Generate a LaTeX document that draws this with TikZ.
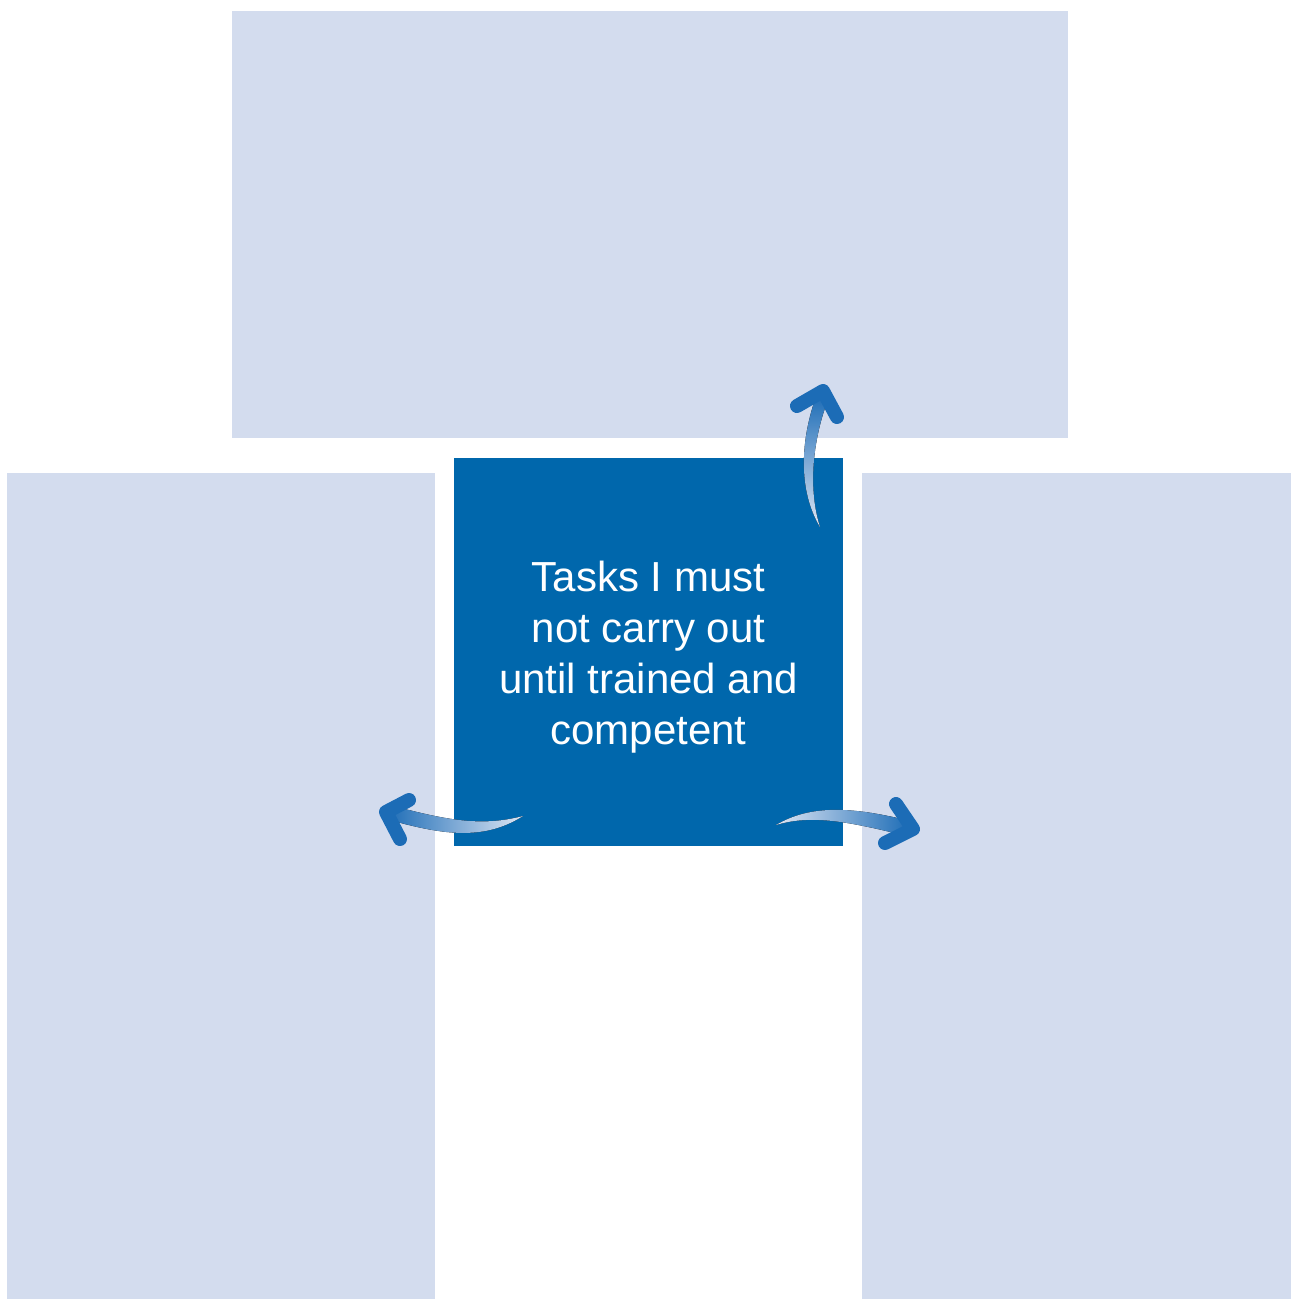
\documentclass[tikz,border=0pt]{standalone}
\usepackage{fontspec}
\setmainfont{Liberation Sans}
\usepackage{xcolor}
\usetikzlibrary{positioning}
\definecolor{panelblue}{RGB}{211,220,238}
\definecolor{taskblue}{RGB}{0,103,172}
\definecolor{arrowdark}{RGB}{28,108,182}
\definecolor{arrowlight}{RGB}{222,230,244}
\begin{document}
\begin{tikzpicture}[x=1pt,y=-1pt,
  panel/.style={fill=panelblue,inner sep=0pt,outer sep=0pt},
  taskbox/.style={fill=taskblue,text=white,align=center,inner sep=0pt,outer sep=0pt,minimum width=389pt,minimum height=388pt,font=\fontsize{42}{51}\selectfont},
  chevron/.style={draw=arrowdark,line width=14pt,line cap=round,line join=round}]
\useasboundingbox (0,0) rectangle (1291,1299);
\node[taskbox] (task) at (648.5,652) {\rule{0pt}{41pt}Tasks I must\\not carry out\\until trained and\\competent};
\node[panel,minimum width=836pt,minimum height=427pt,above=20pt of task.north,xshift=1.5pt] (panelT) {};
\node[panel,minimum width=428pt,minimum height=826pt,anchor=north west] (panelL) at (7,473) {};
\node[panel,minimum width=429pt,minimum height=826pt,anchor=north west] (panelR) at (862,473) {};
% arrow ends
\coordinate (tailT) at (820,527);\coordinate (tipT) at (823,391);
\coordinate (tailL) at (523,816);\coordinate (tipL) at (386,812);
\coordinate (tailR) at (776,825);\coordinate (tipR) at (913,829);
% tapered shafts
\fill[top color=arrowdark,bottom color=arrowlight] (tailT) .. controls (798,490) and (800,440) .. (817,394) -- (829,397) .. controls (812,440) and (808,490) .. (tailT);
\fill[left color=arrowdark,right color=arrowlight] (tailL) .. controls (478,828) and (440,818) .. (389,805) -- (386,819) .. controls (440,834) and (482,842) .. (tailL);
\fill[left color=arrowlight,right color=arrowdark] (tailR) .. controls (810,805) and (850,806) .. (910,821) -- (907,836) .. controls (850,822) and (812,814) .. (tailR);
% heads
\draw[chevron] (797,406) -- (tipT) -- (837,417);
\draw[chevron] (409,800) -- (tipL) -- (400,839);
\draw[chevron] (896,804) -- (tipR) -- (885,843);
\end{tikzpicture}
\end{document}
